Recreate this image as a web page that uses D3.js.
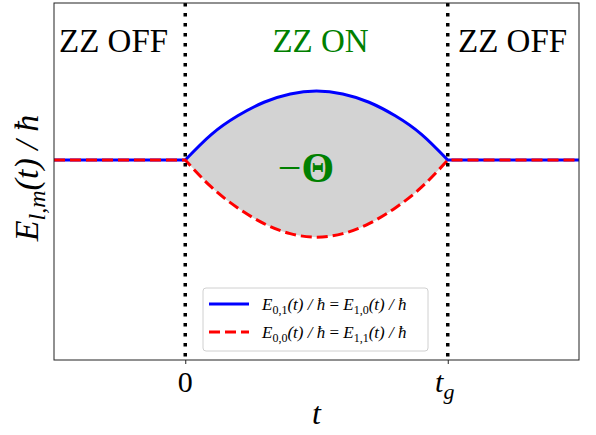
<!DOCTYPE html>
<html lang="en">
<head>
<meta charset="UTF-8">
<title>ZZ energies</title>
<style>
  body { margin: 0; background: #fff; }
</style>
</head>
<body>
<svg id="svg" width="596" height="435" font-family="'Liberation Serif', 'Times New Roman', 'DejaVu Serif', serif"></svg>
<script src="https://d3js.org/d3.v7.min.js"></script>
<script>
// gate window: t from 0 to t_g (t_g = 1)
const tOn = [0, 0.1, 0.2, 0.3, 0.4, 0.5, 0.6, 0.7, 0.8, 0.9, 1]
const upper = [0, 0.18, 0.31, 0.405, 0.463, 0.483, 0.463, 0.405, 0.31, 0.18, 0]
const lower = [0, -0.19, -0.335, -0.445, -0.515, -0.54, -0.515, -0.445, -0.335, -0.19, 0]
const tOffLeft = [-0.5, 0]
const tOffRight = [1, 1.5]
const xTicks = [0, 1]
const xTickLabels = ['0', 't_g']
const regions = ['ZZ OFF', 'ZZ ON', 'ZZ OFF']

const W = 596, H = 435
const m = { left: 54, right: 17, top: 3, bottom: 75 }

const svg = d3.select('#svg')

const x = d3.scaleLinear().domain([-0.5, 1.5]).range([m.left, W - m.right])
const y = d3.scaleLinear().domain([-1.4, 1.1]).range([H - m.bottom, m.top])

const onUp = tOn.map((t, i) => [t, upper[i]])
const onLo = tOn.map((t, i) => [t, lower[i]])

// shaded area between curves
const areaData = tOn.map((t, i) => ({ t, hi: upper[i], lo: lower[i] }))
svg.append('path')
    .datum(areaData)
    .attr('fill', '#d3d3d3')
    .attr('d', d3.area()
        .x(d => x(d.t))
        .y0(d => y(d.lo))
        .y1(d => y(d.hi))
        .curve(d3.curveNatural))

const curveLine = d3.line().x(d => x(d[0])).y(d => y(d[1])).curve(d3.curveNatural)
const flat = ts => 'M' + x(ts[0]) + ',' + y(0) + 'L' + x(ts[1]) + ',' + y(0)

function drawSeries(pts, color, dash) {
    const d = flat(tOffLeft) + curveLine(pts).replace(/^M[^A-Z]*/, 'L' + x(0) + ',' + y(0)) + 'L' + x(tOffRight[1]) + ',' + y(0)
    svg.append('path')
        .attr('d', d)
        .attr('fill', 'none')
        .attr('stroke', color)
        .attr('stroke-width', 3)
        .attr('stroke-dasharray', dash)
}
drawSeries(onUp, '#0000ff', null)
drawSeries(onLo, '#ff0000', '11,5')

// vertical dotted lines
svg.selectAll('.vline')
    .data(xTicks)
    .enter()
    .append('line')
    .attr('x1', d => x(d)).attr('x2', d => x(d))
    .attr('y1', m.top).attr('y2', H - m.bottom)
    .attr('stroke', 'black')
    .attr('stroke-width', 3.5)
    .attr('stroke-dasharray', '3.5,6.5')

// frame
svg.append('rect')
    .attr('x', m.left).attr('y', m.top)
    .attr('width', W - m.left - m.right)
    .attr('height', H - m.top - m.bottom)
    .attr('fill', 'none')
    .attr('stroke', '#222')
    .attr('stroke-width', 1)

// x axis ticks
const xAxis = svg.append('g')
    .attr('transform', `translate(0,${H - m.bottom})`)
    .call(d3.axisBottom(x).tickValues(xTicks).tickSize(4).tickFormat(''))
xAxis.select('.domain').remove()
xAxis.selectAll('.tick line').attr('stroke', '#222')

svg.append('text')
    .attr('x', x(0)).attr('y', 392)
    .attr('text-anchor', 'middle')
    .attr('font-size', 30)
    .text(xTickLabels[0])
const tg = svg.append('text')
    .attr('x', x(1) - 3).attr('y', 392)
    .attr('text-anchor', 'middle')
    .attr('font-size', 30)
    .attr('font-style', 'italic')
tg.append('tspan').text('t')
tg.append('tspan').attr('dy', 7).attr('font-size', 22).text('g')

svg.append('text')
    .attr('x', (x(0) + x(1)) / 2).attr('y', 424)
    .attr('text-anchor', 'middle')
    .attr('font-size', 32)
    .attr('font-style', 'italic')
    .text('t')

// y label
const yl = svg.append('text')
    .attr('transform', `translate(38,178) rotate(-90)`)
    .attr('text-anchor', 'middle')
    .attr('font-size', 34)
    .attr('font-style', 'italic')
yl.append('tspan').text('E')
yl.append('tspan').attr('dy', 7).attr('font-size', 24).text('l,m')
yl.append('tspan').attr('dy', -7).text('(t) / ħ')

// region labels
svg.selectAll('.region')
    .data(regions)
    .enter()
    .append('text')
    .attr('x', (d, i) => [59, (x(0) + x(1)) / 2 + 4, 458][i])
    .attr('y', 52)
    .attr('text-anchor', (d, i) => i === 1 ? 'middle' : 'start')
    .attr('font-size', 33)
    .attr('fill', (d, i) => i === 1 ? 'green' : 'black')
    .text(d => d)

const th = svg.append('text')
    .attr('x', 306).attr('y', 182)
    .attr('text-anchor', 'middle')
    .attr('font-size', 42)
    .attr('fill', 'green')
th.append('tspan').text('−')
th.append('tspan').attr('font-weight', 'bold').text('Θ')

// legend
const lg = svg.append('g')
lg.append('rect')
    .attr('x', 203).attr('y', 288)
    .attr('width', 225).attr('height', 63)
    .attr('rx', 3)
    .attr('fill', 'white')
    .attr('fill-opacity', 0.85)
    .attr('stroke', '#d0d0d0')

const entries = [
    { color: '#0000ff', dash: null, a: '0,1', b: '1,0', yy: 304 },
    { color: '#ff0000', dash: '11,5', a: '0,0', b: '1,1', yy: 332 }
]
entries.forEach(e => {
    lg.append('line')
        .attr('x1', 209).attr('x2', 249)
        .attr('y1', e.yy).attr('y2', e.yy)
        .attr('stroke', e.color)
        .attr('stroke-width', 3)
        .attr('stroke-dasharray', e.dash)
    const t = lg.append('text')
        .attr('x', 262).attr('y', e.yy + 6)
        .attr('font-size', 17)
        .attr('font-style', 'italic')
    t.append('tspan').text('E')
    t.append('tspan').attr('dy', 4).attr('font-size', 12).attr('font-style', 'normal').text(e.a)
    t.append('tspan').attr('dy', -4).text('(t) / ħ ')
    t.append('tspan').attr('font-style', 'normal').text('= ')
    t.append('tspan').text('E')
    t.append('tspan').attr('dy', 4).attr('font-size', 12).attr('font-style', 'normal').text(e.b)
    t.append('tspan').attr('dy', -4).text('(t) / ħ')
})
</script>
</body>
</html>
